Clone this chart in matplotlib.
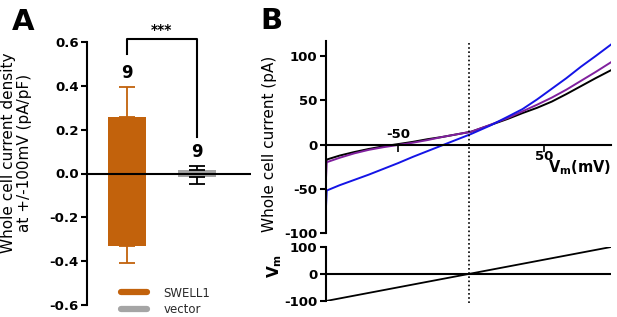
import numpy as np
import matplotlib.pyplot as plt
from matplotlib.lines import Line2D
from matplotlib.transforms import blended_transform_factory

plt.rcParams['font.family'] = 'DejaVu Sans'
plt.rcParams['axes.unicode_minus'] = False
plt.rcParams['mathtext.default'] = 'bf'

# Panel A: current density at +100 / -100 mV
groups = ['SWELL1', 'vector']
pos_mean = [0.256, 0.018]
pos_sem = [0.140, 0.018]
neg_mean = [-0.329, -0.017]
neg_sem = [0.078, 0.030]
n_cells = [9, 9]
bar_colors = ['#C2620C', '#A5A5A5']
err_colors = ['#C2620C', 'black']

# Panel B: I-V traces (mV, pA)
vm = np.array([-99.3, -98.8, -90, -80, -70, -60, -50, -40, -30, -20, -10,
               0, 13, 25, 35, 45, 55, 65, 75, 85, 95.5])
i_black = np.array([-22, -17, -12.5, -8.5, -5, -2, 0.5, 3, 6, 8.5, 11.5,
                    14.5, 22, 29, 35.5, 41.5, 48.5, 57, 66, 75, 84])
i_purple = np.array([-38, -20, -15, -10, -6, -3, -0.5, 2, 5, 8.5, 11.5,
                     14.5, 22.3, 30, 37.5, 45, 53, 62, 72, 82, 93])
i_blue = np.array([-70, -52, -46, -40, -34, -27.5, -21, -14, -7.5, -1, 5.5,
                   12, 21.5, 31.5, 40, 51, 63, 75, 88, 100, 113])
trace_colors = ['black', '#80209E', '#1414E6']

# voltage ramp protocol (ms, mV)
ramp_t = [0, 500]
ramp_v = [-100, 100]

fig = plt.figure(figsize=(6.17, 3.17), dpi=100)
W, H = 617, 317

###############################################################################
# Panel A
axA = fig.add_axes([87 / W, 12 / H, 164 / W, 263 / H])
x = np.arange(len(groups))
for i in range(len(groups)):
    axA.bar(x[i], pos_mean[i], width=0.545, color=bar_colors[i], zorder=2)
    axA.bar(x[i], neg_mean[i], width=0.545, color=bar_colors[i], zorder=2)
    axA.errorbar(x[i], pos_mean[i], yerr=[[0], [pos_sem[i]]], color=err_colors[i],
                 capsize=6, elinewidth=1.3, capthick=1.3, zorder=3)
    axA.errorbar(x[i], neg_mean[i], yerr=[[neg_sem[i]], [0]], color=err_colors[i],
                 capsize=6, elinewidth=1.3, capthick=1.3, zorder=3)
    axA.text(x[i], pos_mean[i] + pos_sem[i] + 0.022, str(n_cells[i]),
             ha='center', va='bottom', fontsize=12, fontweight='bold')

axA.axhline(0, color='black', lw=1.5, zorder=4)

# significance bracket
top0 = pos_mean[0] + pos_sem[0] + 0.148
top1 = pos_mean[1] + pos_sem[1] + 0.129
axA.plot([x[0], x[0], x[1], x[1]], [top0, 0.614, 0.614, top1],
         color='black', lw=1.5, clip_on=False)
axA.text((x[0] + x[1]) / 2, 0.622, '***', ha='center', va='bottom',
         fontsize=10, fontweight='bold')

axA.set_xlim(-0.571, 1.78)
axA.set_ylim(-0.6, 0.6)
axA.set_yticks(np.arange(-0.6, 0.61, 0.2))
axA.set_yticklabels(['%.1f' % v for v in np.arange(-0.6, 0.61, 0.2)])
axA.set_xticks([])
for s in ['top', 'right', 'bottom']:
    axA.spines[s].set_visible(False)
axA.spines['left'].set_linewidth(1.5)
axA.tick_params(axis='y', direction='out', length=4, width=1.5,
                labelsize=9.5, pad=2)
for lab in axA.get_yticklabels():
    lab.set_fontweight('bold')
axA.set_ylabel('Whole cell current density\nat +/-100mV (pA/pF)',
               fontsize=11, linespacing=1.1)
axA.yaxis.set_label_coords(-0.335, 0.578)

handles = [Line2D([], [], color=c, lw=4.5, solid_capstyle='round')
           for c in bar_colors]
axA.legend(handles, groups, loc='center left',
           bbox_to_anchor=(121 / W, 15.6 / H), bbox_transform=fig.transFigure,
           frameon=False, fontsize=8.5, handlelength=2.2, handletextpad=1.4,
           labelspacing=0.3, borderpad=0, borderaxespad=0,
           labelcolor='#2a2a2a')

fig.text(12 / W, 1 - 8 / H, 'A', fontsize=21, fontweight='bold',
         ha='left', va='top')

###############################################################################
# Panel B, top: I-V curves
axB = fig.add_axes([326 / W, 84 / H, 285 / W, 192 / H])
for tr, c in zip([i_black, i_purple, i_blue], trace_colors):
    axB.plot(vm, tr, color=c, lw=1.4, solid_joinstyle='round')
axB.set_xlim(vm[0], vm[-1])
axB.set_ylim(-100, 117)
axB.set_yticks([-100, -50, 0, 50, 100])
for s in ['top', 'right']:
    axB.spines[s].set_visible(False)
axB.spines['bottom'].set_position(('data', 0))
axB.spines['left'].set_linewidth(1.5)
axB.spines['bottom'].set_linewidth(1.5)
axB.tick_params(axis='y', direction='out', length=4, width=1.5,
                labelsize=9.5, pad=2)
for lab in axB.get_yticklabels():
    lab.set_fontweight('bold')
xt = [-50, 50]
axB.set_xticks(xt)
axB.set_xticklabels([])
axB.tick_params(axis='x', direction='out', length=5, width=1.2)
for v in xt:
    if v < 0:
        axB.text(v, 4, str(v), ha='center', va='bottom', fontsize=9.5,
                 fontweight='bold')
    else:
        axB.text(v, -6, str(v), ha='center', va='top', fontsize=9.5,
                 fontweight='bold')
axB.text(1.0, -16, r'$V_m$(mV)', transform=blended_transform_factory(
    axB.transAxes, axB.transData), ha='right', va='top', fontsize=10.5,
    fontweight='bold')
axB.set_ylabel('Whole cell current (pA)', fontsize=11)
axB.yaxis.set_label_coords(-0.172, 0.466)

# Panel B, bottom: voltage command
axV = fig.add_axes([326 / W, 16 / H, 285 / W, 54 / H])
axV.plot(ramp_t, ramp_v, color='black', lw=1.3)
axV.axhline(0, color='black', lw=1.5)
axV.set_xlim(ramp_t[0], ramp_t[-1])
axV.set_ylim(-100, 100)
axV.set_yticks([-100, 0, 100])
axV.set_xticks([])
for s in ['top', 'right', 'bottom']:
    axV.spines[s].set_visible(False)
axV.spines['left'].set_linewidth(1.5)
axV.tick_params(axis='y', direction='out', length=4, width=1.5,
                labelsize=9.5, pad=2)
for lab in axV.get_yticklabels():
    lab.set_fontweight('bold')
axV.set_ylabel(r'$V_m$', fontsize=11)
axV.yaxis.set_label_coords(-0.147, 0.648)

# dotted line where the command crosses 0 mV
t0 = np.interp(0, ramp_v, ramp_t)
axV.plot([t0, t0], [14 / H, 1 - 41 / H], color='black', lw=1.2,
         linestyle=(0, (1, 1.5)),
         transform=blended_transform_factory(axV.transData, fig.transFigure),
         clip_on=False)

fig.text(260 / W, 1 - 7 / H, 'B', fontsize=21, fontweight='bold',
         ha='left', va='top')

plt.savefig('out.png', dpi=100)
